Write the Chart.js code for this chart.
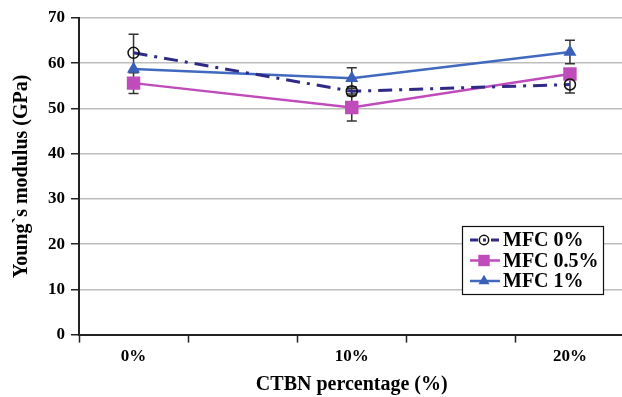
<!DOCTYPE html>
<html>
<head>
<meta charset="utf-8">
<script src="https://cdn.jsdelivr.net/npm/chart.js@4/dist/chart.umd.min.js"></script>
<style>
  html, body { margin: 0; padding: 0; background: #fff; overflow: hidden; }
  #wrap { width: 634px; height: 397px; }
</style>
</head>
<body>
<div id="wrap"><canvas id="chart" width="634" height="397"></canvas></div>
<script>
// categories (blank slots give the tick marks between labelled groups)
const categories = ['0%', '', '10%', '', '20%'];
const seriesNames = ['MFC 0%', 'MFC 0.5%', 'MFC 1%'];

const mfc0 = [62.3, null, 53.8, null, 55.3];
const mfc05 = [55.6, null, 50.2, null, 57.6];
const mfc1 = [58.7, null, 56.7, null, 62.5];

// error bar half-widths
const mfc0Err = [4.1, null, 1.0, null, 1.9];
const mfc05Err = [2.3, null, 3.0, null, 0];
const mfc1Err = [0, null, 2.3, null, 2.6];

const yTicks = [0, 10, 20, 30, 40, 50, 60, 70];

const serif = "'Liberation Serif', 'Times New Roman', serif";

const errorBars = {
  id: 'errorBars',
  beforeDatasetsDraw(chart) {
    const ctx = chart.ctx;
    const y = chart.scales.y;
    const errs = [mfc0Err, mfc05Err, mfc1Err];
    ctx.save();
    ctx.strokeStyle = '#333';
    ctx.lineWidth = 1.5;
    chart.data.datasets.forEach((ds, di) => {
      const meta = chart.getDatasetMeta(di);
      ds.data.forEach((v, i) => {
        const e = errs[di][i];
        if (v === null || !e) return;
        const px = meta.data[i].x;
        const top = y.getPixelForValue(v + e);
        const bot = y.getPixelForValue(v - e);
        ctx.beginPath();
        ctx.moveTo(px, top); ctx.lineTo(px, bot);
        ctx.moveTo(px - 5, top); ctx.lineTo(px + 5, top);
        ctx.moveTo(px - 5, bot); ctx.lineTo(px + 5, bot);
        ctx.stroke();
      });
    });
    ctx.restore();
  }
};

const boxLegend = {
  id: 'boxLegend',
  afterDraw(chart) {
    const ctx = chart.ctx;
    const x0 = 462, y0 = 226, w = 141, h = 68;
    ctx.save();
    ctx.fillStyle = '#fff';
    ctx.fillRect(x0, y0, w, h);
    ctx.strokeStyle = '#111';
    ctx.lineWidth = 1.2;
    ctx.strokeRect(x0 + 0.5, y0 + 0.5, w, h);
    chart.data.datasets.forEach((ds, i) => {
      const cy = y0 + 14 + i * 20.5;
      ctx.save();
      ctx.strokeStyle = ds.borderColor;
      ctx.lineWidth = ds.borderWidth;
      ctx.setLineDash(i === 0 ? [8, 5, 3, 5] : []);
      ctx.beginPath();
      ctx.moveTo(x0 + 8, cy);
      ctx.lineTo(x0 + 38, cy);
      ctx.stroke();
      ctx.restore();
      ctx.fillStyle = ds.pointBackgroundColor;
      ctx.strokeStyle = ds.pointBorderColor;
      ctx.lineWidth = ds.pointBorderWidth;
      Chart.helpers.drawPoint(ctx, {
        pointStyle: ds.pointStyle,
        radius: ds.pointRadius * 0.85,
        borderWidth: ds.pointBorderWidth
      }, x0 + 22, cy);
      ctx.fillStyle = '#000';
      ctx.font = 'bold 20px ' + serif;
      ctx.textBaseline = 'middle';
      ctx.fillText(seriesNames[i], x0 + 41, cy + 1);
    });
    ctx.restore();
  }
};

new Chart(document.getElementById('chart'), {
  type: 'line',
  data: {
    labels: categories,
    datasets: [
      {
        label: seriesNames[0],
        data: mfc0,
        borderColor: '#2e2a85',
        borderWidth: 3,
        borderDash: [14, 7, 3, 7],
        pointStyle: 'circle',
        pointRadius: 5.5,
        pointBorderWidth: 1.5,
        pointBorderColor: '#111',
        pointBackgroundColor: 'rgba(0,0,0,0)',
        spanGaps: true,
        tension: 0
      },
      {
        label: seriesNames[1],
        data: mfc05,
        borderColor: '#c04cbc',
        borderWidth: 2.5,
        pointStyle: 'rect',
        pointRadius: 9.5,
        pointBorderWidth: 0,
        pointBorderColor: '#c04cbc',
        pointBackgroundColor: '#c04cbc',
        spanGaps: true,
        tension: 0
      },
      {
        label: seriesNames[2],
        data: mfc1,
        borderColor: '#4169c0',
        borderWidth: 2.5,
        pointStyle: 'triangle',
        pointRadius: 7.5,
        pointBorderWidth: 0,
        pointBorderColor: '#3a5fb8',
        pointBackgroundColor: '#3a5fb8',
        spanGaps: true,
        tension: 0
      }
    ]
  },
  options: {
    responsive: false,
    animation: false,
    layout: { padding: { left: 10, right: 6, top: 18, bottom: 0 } },
    plugins: {
      legend: { display: false },
      tooltip: { enabled: false }
    },
    scales: {
      x: {
        offset: true,
        grid: {
          offset: true,
          drawOnChartArea: false,
          drawTicks: true,
          tickLength: 8,
          tickColor: '#222',
          tickWidth: 1.5
        },
        border: { color: '#222', width: 2 },
        ticks: {
          autoSkip: false,
          maxRotation: 0,
          color: '#000',
          padding: 4,
          font: { family: serif, size: 17, weight: 'bold' }
        },
        title: {
          display: true,
          text: 'CTBN percentage (%)',
          color: '#000',
          padding: { top: 2, bottom: 0 },
          font: { family: serif, size: 20, weight: 'bold' }
        }
      },
      y: {
        min: 0,
        max: 70,
        afterBuildTicks: (axis) => { axis.ticks = yTicks.map(v => ({ value: v })); },
        grid: {
          color: '#bdbdbd',
          lineWidth: 1.5,
          tickLength: 8,
          tickColor: '#222',
          tickWidth: 1.5
        },
        border: { color: '#222', width: 2 },
        ticks: {
          color: '#000',
          padding: 6,
          font: { family: serif, size: 17, weight: 'bold' }
        },
        title: {
          display: true,
          text: 'Young`s modulus (GPa)',
          color: '#000',
          padding: { top: 0, bottom: 8 },
          font: { family: serif, size: 20, weight: 'bold' }
        }
      }
    }
  },
  plugins: [errorBars, boxLegend]
});
</script>
</body>
</html>
